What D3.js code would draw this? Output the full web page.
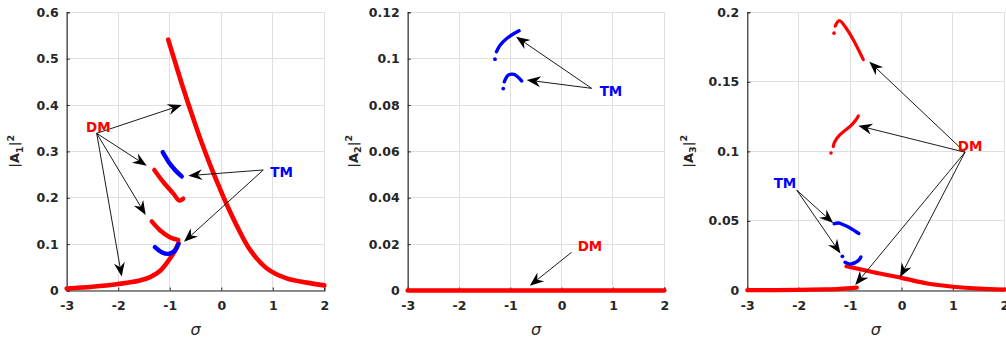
<!DOCTYPE html>
<html><head><meta charset="utf-8">
<script src="https://cdn.jsdelivr.net/npm/d3@7"></script>
<style>body{margin:0;background:#fff}svg{display:block}</style>
</head><body>
<svg id="chart" width="1006" height="343"></svg>
<script>
// ---------- data ----------
const sigmaDomain = [-3, 2];
const xTicks = [-3, -2, -1, 0, 1, 2];

const yTicks1 = [0, 0.1, 0.2, 0.3, 0.4, 0.5, 0.6];
const yTickLabels1 = ["0", "0.1", "0.2", "0.3", "0.4", "0.5", "0.6"];
const yTicks2 = [0, 0.02, 0.04, 0.06, 0.08, 0.1, 0.12];
const yTickLabels2 = ["0", "0.02", "0.04", "0.06", "0.08", "0.1", "0.12"];
const yTicks3 = [0, 0.05, 0.1, 0.15, 0.2];
const yTickLabels3 = ["0", "0.05", "0.1", "0.15", "0.2"];

// Panel 1 : |A1|^2
const p1DmLowerSigma = [-3, -2.5, -2, -1.6, -1.38, -1.19, -1.06, -0.93, -0.83];
const p1DmLowerValue = [0.004, 0.008, 0.014, 0.021, 0.029, 0.042, 0.059, 0.08, 0.102];
const p1DmUpperSigma = [-1.03, -0.9, -0.77, -0.65, -0.54, -0.4, -0.22, -0.05, 0.1, 0.3, 0.557, 0.88, 1.27, 1.66, 2.0];
const p1DmUpperValue = [0.541, 0.494, 0.447, 0.406, 0.370, 0.325, 0.272, 0.226, 0.187, 0.140, 0.088, 0.048, 0.026, 0.017, 0.011];
const p1DmBSigma = [-1.3, -1.125, -0.93, -0.815, -0.74];
const p1DmBValue = [0.26, 0.234, 0.209, 0.194, 0.198];
const p1DmCSigma = [-1.35, -1.19, -1.0, -0.834];
const p1DmCValue = [0.149, 0.13, 0.115, 0.109];
const p1TmASigma = [-1.137, -1.07, -0.995, -0.88, -0.768];
const p1TmAValue = [0.2985, 0.286, 0.273, 0.258, 0.246];
const p1TmBSigma = [-1.287, -1.157, -1.028, -0.898, -0.834];
const p1TmBValue = [0.0935, 0.0827, 0.079, 0.086, 0.1];

// Panel 2 : |A2|^2
const p2DmSigma = [-3, -2, -1, 0, 1, 2];
const p2DmValue = [0, 0, 0, 0, 0, 0];
const p2TmASigma = [-1.27, -1.2, -1.07, -0.974, -0.83];
const p2TmAValue = [0.103, 0.1058, 0.1087, 0.1102, 0.112];
const p2TmADotSigma = [-1.3];
const p2TmADotValue = [0.0998];
const p2TmBSigma = [-1.118, -1.04, -0.93, -0.78];
const p2TmBValue = [0.09, 0.0929, 0.0932, 0.0904];
const p2TmBDotSigma = [-1.138];
const p2TmBDotValue = [0.0871];

// Panel 3 : |A3|^2
const p3DmLowerSigma = [-3, -2, -1.5, -1.2, -0.87];
const p3DmLowerValue = [0.0002, 0.0004, 0.0008, 0.0012, 0.002];
const p3DmUpperSigma = [-1.07, -0.5, 0, 0.5, 1, 1.5, 2];
const p3DmUpperValue = [0.0174, 0.0128, 0.0091, 0.005, 0.0027, 0.0013, 0.0007];
const p3DmASigma = [-1.29, -1.21, -1.066, -0.905, -0.743];
const p3DmAValue = [0.19, 0.194, 0.188, 0.178, 0.166];
const p3DmADotSigma = [-1.313];
const p3DmADotValue = [0.185];
const p3DmBSigma = [-1.327, -1.3, -1.196, -1.1, -1.0, -0.9, -0.84];
const p3DmBValue = [0.1035, 0.107, 0.112, 0.115, 0.118, 0.122, 0.1255];
const p3DmBDotSigma = [-1.372];
const p3DmBDotValue = [0.0988];
const p3TmASigma = [-1.31, -1.22, -1.13, -1.0, -0.83];
const p3TmAValue = [0.048, 0.0485, 0.0473, 0.045, 0.041];
const p3TmBSigma = [-1.1, -0.99, -0.84, -0.79];
const p3TmBValue = [0.0203, 0.019, 0.0215, 0.024];
const p3TmBDotSigma = [-1.15];
const p3TmBDotValue = [0.0246];

// Annotations (data coordinates: sigma, value)
const p1DmLabel = [-2.387, 0.353], p1DmTail = [-2.418, 0.339];
const p1DmHeads = [[-0.768, 0.400], [-1.447, 0.269], [-1.467, 0.163], [-1.932, 0.030]];
const p1TmLabel = [1.173, 0.256], p1TmTail = [0.816, 0.26];
const p1TmHeads = [[-0.64, 0.2476], [-0.723, 0.105]];

const p2TmLabel = [0.961, 0.0861], p2TmTail = [0.585, 0.0872];
const p2TmHeads = [[-0.89, 0.1095], [-0.68, 0.0908]];
const p2DmLabel = [0.552, 0.0192], p2DmTail = [0.195, 0.0165];
const p2DmHeads = [[-0.62, 0.0021]];

const p3DmLabel = [1.333, 0.104], p3DmTail = [1.235, 0.0994];
const p3DmHeads = [[-0.626, 0.1645], [-0.84, 0.1185], [-0.029, 0.0095], [-0.9, 0.004]];
const p3TmLabel = [-2.267, 0.0771], p3TmTail = [-2.039, 0.0722];
const p3TmHeads = [[-1.33, 0.0485], [-1.187, 0.0266]];

// ---------- drawing ----------
const RED = "#ff0000", BLUE = "#0000ff";
const AX = "#262626", GRID = "#dfdfdf";
const TOP = 12.3, BOTTOM = 290.5;

const zip = (s, v) => s.map((d, i) => [d, v[i]]);

const panels = [
  { left: 66.7, right: 324.3, yDomain: [0, 0.6], yTicks: yTicks1, yLabels: yTickLabels1, sub: "1", labelOff: 52,
    series: [
      { d: zip(p1DmLowerSigma, p1DmLowerValue), c: RED, w: 4.6 },
      { d: zip(p1DmUpperSigma, p1DmUpperValue), c: RED, w: 4.6 },
      { d: zip(p1DmBSigma, p1DmBValue), c: RED, w: 4.4 },
      { d: zip(p1DmCSigma, p1DmCValue), c: RED, w: 4.4 },
      { d: zip(p1TmASigma, p1TmAValue), c: BLUE, w: 4.4 },
      { d: zip(p1TmBSigma, p1TmBValue), c: BLUE, w: 4.4 }
    ], dots: [],
    notes: [
      { text: "DM", c: RED, label: p1DmLabel, tail: p1DmTail, heads: p1DmHeads },
      { text: "TM", c: BLUE, label: p1TmLabel, tail: p1TmTail, heads: p1TmHeads }
    ] },
  { left: 407.7, right: 664.3, yDomain: [0, 0.12], yTicks: yTicks2, yLabels: yTickLabels2, sub: "2", labelOff: 54.5,
    series: [
      { d: zip(p2DmSigma, p2DmValue), c: RED, w: 4.6 },
      { d: zip(p2TmASigma, p2TmAValue), c: BLUE, w: 3.4 },
      { d: zip(p2TmBSigma, p2TmBValue), c: BLUE, w: 3.4 }
    ],
    dots: [
      { d: zip(p2TmADotSigma, p2TmADotValue), c: BLUE, r: 1.9 },
      { d: zip(p2TmBDotSigma, p2TmBDotValue), c: BLUE, r: 1.9 }
    ],
    notes: [
      { text: "TM", c: BLUE, label: p2TmLabel, tail: p2TmTail, heads: p2TmHeads },
      { text: "DM", c: RED, label: p2DmLabel, tail: p2DmTail, heads: p2DmHeads }
    ] },
  { left: 747.3, right: 1004.3, yDomain: [0, 0.2], yTicks: yTicks3, yLabels: yTickLabels3, sub: "3", labelOff: 59,
    series: [
      { d: zip(p3DmLowerSigma, p3DmLowerValue), c: RED, w: 4.2 },
      { d: zip(p3DmUpperSigma, p3DmUpperValue), c: RED, w: 4.2 },
      { d: zip(p3DmASigma, p3DmAValue), c: RED, w: 3.2 },
      { d: zip(p3DmBSigma, p3DmBValue), c: RED, w: 3.2 },
      { d: zip(p3TmASigma, p3TmAValue), c: BLUE, w: 3.4 },
      { d: zip(p3TmBSigma, p3TmBValue), c: BLUE, w: 3.4 }
    ],
    dots: [
      { d: zip(p3DmADotSigma, p3DmADotValue), c: RED, r: 1.8 },
      { d: zip(p3DmBDotSigma, p3DmBDotValue), c: RED, r: 1.8 },
      { d: zip(p3TmBDotSigma, p3TmBDotValue), c: BLUE, r: 1.9 }
    ],
    notes: [
      { text: "DM", c: RED, label: p3DmLabel, tail: p3DmTail, heads: p3DmHeads },
      { text: "TM", c: BLUE, label: p3TmLabel, tail: p3TmTail, heads: p3TmHeads }
    ] }
];

const svg = d3.select("#chart");
const FONT = "'DejaVu Sans', sans-serif";

panels.forEach(p => {
  const x = d3.scaleLinear().domain(sigmaDomain).range([p.left, p.right]);
  const y = d3.scaleLinear().domain(p.yDomain).range([BOTTOM, TOP]);
  const g = svg.append("g");

  // grid
  g.append("g").selectAll("line").data(xTicks).join("line")
    .attr("x1", d => x(d)).attr("x2", d => x(d)).attr("y1", TOP).attr("y2", BOTTOM)
    .attr("stroke", GRID).attr("stroke-width", 1).attr("shape-rendering", "crispEdges");
  g.append("g").selectAll("line").data(p.yTicks).join("line")
    .attr("x1", p.left).attr("x2", p.right).attr("y1", d => y(d)).attr("y2", d => y(d))
    .attr("stroke", GRID).attr("stroke-width", 1).attr("shape-rendering", "crispEdges");

  // axes
  const xAxis = d3.axisBottom(x).tickValues(xTicks).tickSize(-3).tickPadding(11).tickFormat(d3.format("d"));
  const yAxis = d3.axisLeft(y).tickValues(p.yTicks).tickSize(-3).tickPadding(8).tickFormat((d, i) => p.yLabels[i]);
  const gx = g.append("g").attr("transform", `translate(0,${BOTTOM})`).call(xAxis);
  const gy = g.append("g").attr("transform", `translate(${p.left},0)`).call(yAxis);
  [gx, gy].forEach(a => {
    a.select(".domain").attr("stroke", AX).attr("stroke-width", 1.1);
    a.selectAll(".tick line").attr("stroke", AX);
    a.selectAll(".tick text").attr("fill", AX).attr("font-family", FONT)
      .attr("font-weight", "bold").attr("font-size", 12.5);
  });
  gx.selectAll(".tick text").text(d => d < 0 ? "-" + Math.abs(d) : d);

  // axis labels
  g.append("text").attr("x", (p.left + p.right) / 2).attr("y", 335)
    .attr("text-anchor", "middle").attr("font-family", FONT).attr("font-style", "italic")
    .attr("font-size", 16).attr("fill", AX).text("σ");
  const yl = g.append("text")
    .attr("transform", `translate(${p.left - p.labelOff},${(TOP + BOTTOM) / 2}) rotate(-90)`)
    .attr("text-anchor", "middle").attr("font-family", FONT).attr("font-weight", "bold")
    .attr("font-size", 13).attr("fill", AX).attr("dy", "0.35em");
  yl.append("tspan").text("|A");
  yl.append("tspan").attr("font-size", 9.5).attr("dy", 3.5).text(p.sub);
  yl.append("tspan").attr("dy", -3.5).text("|");
  yl.append("tspan").attr("font-size", 9.5).attr("dy", -5.5).text("2");

  // series
  const line = d3.line().x(d => x(d[0])).y(d => y(d[1])).curve(d3.curveCatmullRom.alpha(0.5));
  p.series.forEach(s => {
    g.append("path").attr("d", line(s.d)).attr("fill", "none").attr("stroke", s.c)
      .attr("stroke-width", s.w).attr("stroke-linecap", "round").attr("stroke-linejoin", "round");
  });
  p.dots.forEach(s => {
    g.append("g").selectAll("circle").data(s.d).join("circle")
      .attr("cx", d => x(d[0])).attr("cy", d => y(d[1])).attr("r", s.r).attr("fill", s.c);
  });

  // annotations
  const HL = 14, HW = 11, NOTCH = 9.5;
  p.notes.forEach(n => {
    const tx = x(n.tail[0]), ty = y(n.tail[1]);
    n.heads.forEach(h => {
      const hx = x(h[0]), hy = y(h[1]);
      const ang = Math.atan2(hy - ty, hx - tx);
      const cos = Math.cos(ang), sin = Math.sin(ang);
      const nx = hx - NOTCH * cos, ny = hy - NOTCH * sin;
      g.append("line").attr("x1", tx).attr("y1", ty).attr("x2", nx).attr("y2", ny)
        .attr("stroke", "#000").attr("stroke-width", 0.9);
      const pt = (a, b) => [hx + a * cos - b * sin, hy + a * sin + b * cos];
      const pts = [pt(0, 0), pt(-HL, HW / 2), pt(-NOTCH, 0), pt(-HL, -HW / 2)];
      g.append("path").attr("d", "M" + pts.map(q => q.join(",")).join("L") + "Z").attr("fill", "#000");
    });
    g.append("text").attr("x", x(n.label[0])).attr("y", y(n.label[1])).attr("dy", "0.36em")
      .attr("text-anchor", "middle").attr("font-family", FONT).attr("font-weight", "bold")
      .attr("font-size", 13.5).attr("fill", n.c).text(n.text);
  });
});
</script>
</body></html>
